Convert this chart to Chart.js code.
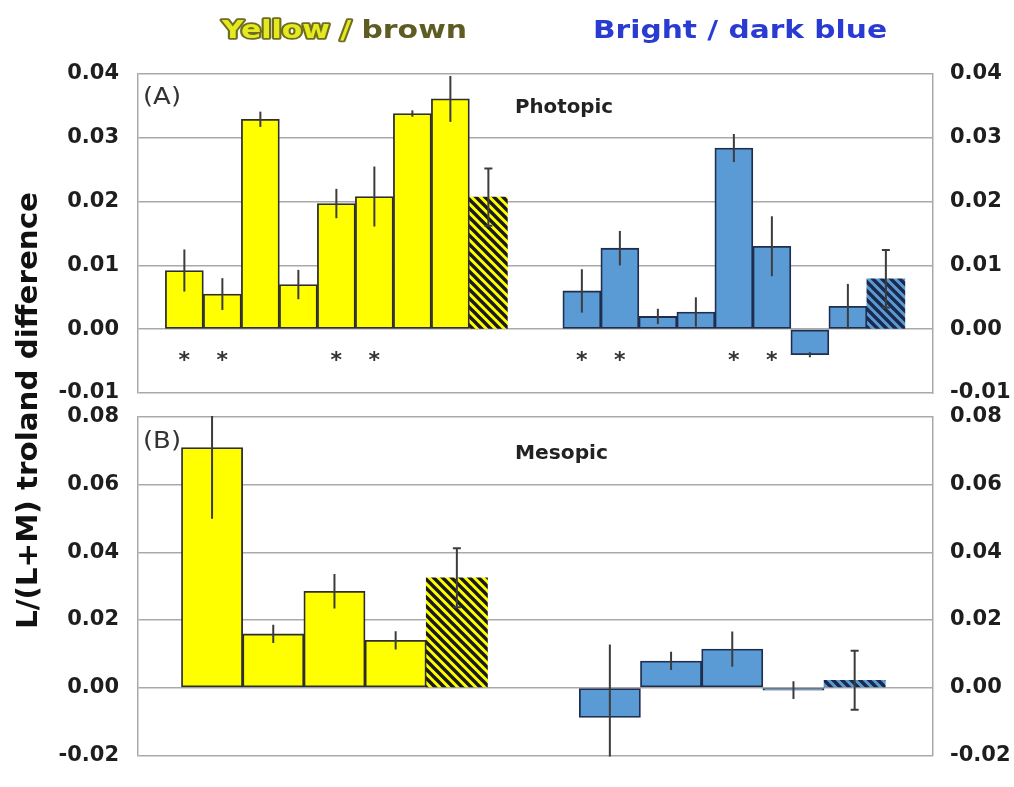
<!DOCTYPE html>
<html>
<head>
<meta charset="utf-8">
<script src="https://cdn.jsdelivr.net/npm/chart.js@4.4.1/dist/chart.umd.min.js"></script>
<style>
  html, body { margin: 0; padding: 0; background: #ffffff; }
  #wrap { position: relative; width: 1014px; height: 787px; overflow: hidden; }
  #wrap canvas { position: absolute; left: 0; top: 0; }
</style>
</head>
<body>
<div id="wrap">
  <canvas id="photopic" width="1014" height="787"></canvas>
  <canvas id="mesopic" width="1014" height="787"></canvas>
</div>
<script>
// ---- Photopic: L/(L+M) troland difference per pair; last entry is the group mean ----
const photopicYellow    = [0.0092, 0.0055, 0.0329, 0.0070, 0.0197, 0.0208, 0.0338, 0.0361, 0.0207];
const photopicYellowErr = [0.0033, 0.0025, 0.0012, 0.0023, 0.0023, 0.0047, 0.0005, 0.0036, 0.0045];
const photopicYellowSig = [1, 1, 0, 0, 1, 1, 0, 0, 0];
const photopicBlue      = [0.0060, 0.0127, 0.0020, 0.0027, 0.0284, 0.0130, -0.0040, 0.0036, 0.0079];
const photopicBlueErr   = [0.0034, 0.0027, 0.0012, 0.0023, 0.0022, 0.0047, 0.0004, 0.0035, 0.0045];
const photopicBlueSig   = [1, 1, 0, 0, 1, 1, 0, 0, 0];
const photopicTicks     = [-0.01, 0.00, 0.01, 0.02, 0.03, 0.04];

// ---- Mesopic ----
const mesopicYellow    = [0.0710, 0.0159, 0.0285, 0.0140, 0.0325];
const mesopicYellowErr = [0.0211, 0.0027, 0.0051, 0.0027, 0.0087];
const mesopicBlue      = [-0.0088, 0.0079, 0.0114, -0.0007, 0.0022];
const mesopicBlueErr   = [0.0216, 0.0027, 0.0052, 0.0026, 0.0087];
const mesopicTicks     = [-0.02, 0.00, 0.02, 0.04, 0.06, 0.08];

// ---- styling ----
const YELLOW = '#ffff00';
const BLUE = '#5b9bd5';
const GRID = '#a9a9a9';
const TICK_FONT = { family: 'DejaVu Sans', size: 21, weight: 'bold' };

function hatch(bg, fg) {
  const p = 9;
  const c = document.createElement('canvas');
  c.width = p; c.height = p;
  const g = c.getContext('2d');
  g.fillStyle = bg; g.fillRect(0, 0, p, p);
  g.strokeStyle = fg; g.lineWidth = 3.4; g.lineCap = 'square';
  g.beginPath();
  for (const o of [-p, 0, p]) { g.moveTo(o, 0); g.lineTo(o + p, p); }
  g.stroke();
  return g.createPattern(c, 'repeat');
}

// one group of bars: plain bars plus the hatched mean bar (last value)
function groupDatasets(values, errs, sig, start, fill, border, hatchFg) {
  const n = values.length - 1;
  const plain = values.slice(0, n).map((v, i) => ({ x: start + i, y: v }));
  const mean = [{ x: start + n, y: values[n] }];
  const shared = { grouped: false, barPercentage: 1, categoryPercentage: 1 };
  return [
    Object.assign({ data: plain, errors: errs.slice(0, n), sig: sig ? sig.slice(0, n) : null, capped: false,
      backgroundColor: fill, borderColor: border, borderWidth: 1.8, borderSkipped: false }, shared),
    Object.assign({ data: mean, errors: [errs[n]], sig: null, capped: true,
      backgroundColor: hatch(fill, hatchFg), borderWidth: 0 }, shared)
  ];
}

// horizontally fitted text helper
function fitText(ctx, text, x, y, font, width, fill) {
  ctx.save();
  ctx.font = font;
  const w = ctx.measureText(text).width;
  ctx.translate(x, y);
  ctx.scale(width / w, 1);
  ctx.textAlign = 'left';
  ctx.textBaseline = 'alphabetic';
  ctx.fillStyle = fill;
  ctx.fillText(text, 0, 0);
  ctx.restore();
}

function panelPlugin(opts) {
  return {
    id: 'panelDecor',
    afterDatasetsDraw(chart) {
      const ctx = chart.ctx;
      const ys = chart.scales.y;
      const a = chart.chartArea;
      ctx.save();
      ctx.beginPath();
      ctx.rect(a.left, a.top - 1, a.right - a.left, a.bottom - a.top + 2);
      ctx.clip();
      chart.data.datasets.forEach((ds, di) => {
        const meta = chart.getDatasetMeta(di);
        meta.data.forEach((bar, i) => {
          const v = ds.data[i].y, e = ds.errors[i];
          const yTop = ys.getPixelForValue(v + e);
          const yBot = ys.getPixelForValue(v - e);
          ctx.strokeStyle = '#3c3c3c';
          ctx.lineWidth = 2;
          ctx.beginPath();
          ctx.moveTo(bar.x, yTop); ctx.lineTo(bar.x, yBot);
          if (ds.capped) {
            ctx.moveTo(bar.x - 4, yTop); ctx.lineTo(bar.x + 4, yTop);
            ctx.moveTo(bar.x - 4, yBot); ctx.lineTo(bar.x + 4, yBot);
          }
          ctx.stroke();
        });
      });
      ctx.restore();

      // significance markers
      if (opts.starLevel !== undefined) {
        ctx.save();
        ctx.font = 'bold 22px "DejaVu Sans"';
        ctx.fillStyle = '#333333';
        ctx.textAlign = 'center';
        ctx.textBaseline = 'middle';
        const yStar = ys.getPixelForValue(opts.starLevel) + 5;
        chart.data.datasets.forEach((ds, di) => {
          if (!ds.sig) return;
          const meta = chart.getDatasetMeta(di);
          meta.data.forEach((bar, i) => { if (ds.sig[i]) ctx.fillText('*', bar.x, yStar); });
        });
        ctx.restore();
      }
    },
    afterDraw(chart) {
      const ctx = chart.ctx;
      const a = chart.chartArea;
      fitText(ctx, opts.tag, a.left + 5, a.top + opts.tagDy, '23px "DejaVu Sans"', 38, '#333333');
      fitText(ctx, opts.name, 515, a.top + opts.nameDy, 'bold 20px "DejaVu Sans"', opts.nameW, '#222222');
      if (opts.headers) drawHeaders(ctx);
    }
  };
}

function drawHeaders(ctx) {
  // "Yellow / brown"
  ctx.save();
  ctx.font = 'bold 24px "DejaVu Sans"';
  const full = 'Yellow / brown';
  const part = 'Yellow /';
  const s = 245 / ctx.measureText(full).width;
  ctx.translate(222, 38);
  ctx.scale(s, 1);
  ctx.textBaseline = 'alphabetic';
  ctx.lineJoin = 'round';
  ctx.lineWidth = 3.5;
  ctx.strokeStyle = '#6f6d22';
  ctx.strokeText(part, 0, 0);
  ctx.fillStyle = '#e4ea1e';
  ctx.fillText(part, 0, 0);
  ctx.fillStyle = '#5e5c22';
  ctx.fillText(' brown', ctx.measureText(part).width, 0);
  ctx.restore();

  // "Bright / dark blue"
  fitText(ctx, 'Bright / dark blue', 593, 38, 'bold 24px "DejaVu Sans"', 294, '#2a3bd2');

  // shared y-axis title
  ctx.save();
  ctx.font = 'bold 29px "DejaVu Sans"';
  const t = 'L/(L+M) troland difference';
  const w = ctx.measureText(t).width;
  ctx.translate(37, 629);
  ctx.rotate(-Math.PI / 2);
  ctx.scale(437 / w, 1);
  ctx.fillStyle = '#111111';
  ctx.textAlign = 'left';
  ctx.textBaseline = 'alphabetic';
  ctx.fillText(t, 0, 0);
  ctx.restore();
}

function yScales(ticks) {
  const common = {
    min: ticks[0],
    max: ticks[ticks.length - 1],
    afterBuildTicks: (s) => { s.ticks = ticks.map(v => ({ value: v })); },
    border: { display: true, color: GRID, width: 1.5 },
    ticks: { font: TICK_FONT, color: '#1e1e1e', callback: (v) => Number(v).toFixed(2) }
  };
  return {
    y: Object.assign({}, common, {
      position: 'left',
      afterFit: (s) => { s.width = 138; },
      grid: { color: GRID, lineWidth: 1.5, drawTicks: false },
      ticks: Object.assign({}, common.ticks, { padding: 19 })
    }),
    y2: Object.assign({}, common, {
      position: 'right',
      afterFit: (s) => { s.width = 81; },
      grid: { drawOnChartArea: false, drawTicks: false },
      ticks: Object.assign({}, common.ticks, { padding: 17 })
    })
  };
}

function makePanel(id, cfg) {
  const scales = yScales(cfg.ticks);
  scales.x = { type: 'linear', display: false, offset: false, min: cfg.xMin, max: cfg.xMax, ticks: { stepSize: 100 } };
  return new Chart(document.getElementById(id), {
    type: 'bar',
    data: { datasets: cfg.datasets },
    options: {
      responsive: false,
      animation: false,
      events: [],
      layout: { padding: cfg.padding },
      plugins: { legend: { display: false }, tooltip: { enabled: false } },
      scales
    },
    plugins: [panelPlugin(cfg.decor)]
  });
}

// (A) Photopic
makePanel('photopic', {
  ticks: photopicTicks,
  xMin: -1.22, xMax: 19.70,
  padding: { left: 0, right: 0, top: 74, bottom: 394 },
  datasets: [
    ...groupDatasets(photopicYellow, photopicYellowErr, photopicYellowSig, 0, YELLOW, '#2e2e2e', '#1a1a1a'),
    ...groupDatasets(photopicBlue, photopicBlueErr, photopicBlueSig, 10.46, BLUE, '#1f2e4e', '#1b2a4c')
  ],
  decor: { tag: '(A)', tagDy: 30, name: 'Photopic', nameDy: 39, nameW: 98, starLevel: -0.0042, headers: true }
});

// (B) Mesopic
makePanel('mesopic', {
  ticks: mesopicTicks,
  xMin: -1.21, xMax: 11.78,
  padding: { left: 0, right: 0, top: 417, bottom: 15 },
  datasets: [
    ...groupDatasets(mesopicYellow, mesopicYellowErr, null, 0, YELLOW, '#2e2e2e', '#1a1a1a'),
    ...groupDatasets(mesopicBlue, mesopicBlueErr, null, 6.5, BLUE, '#1f2e4e', '#1b2a4c')
  ],
  decor: { tag: '(B)', tagDy: 31, name: 'Mesopic', nameDy: 42, nameW: 93 }
});
</script>
</body>
</html>
